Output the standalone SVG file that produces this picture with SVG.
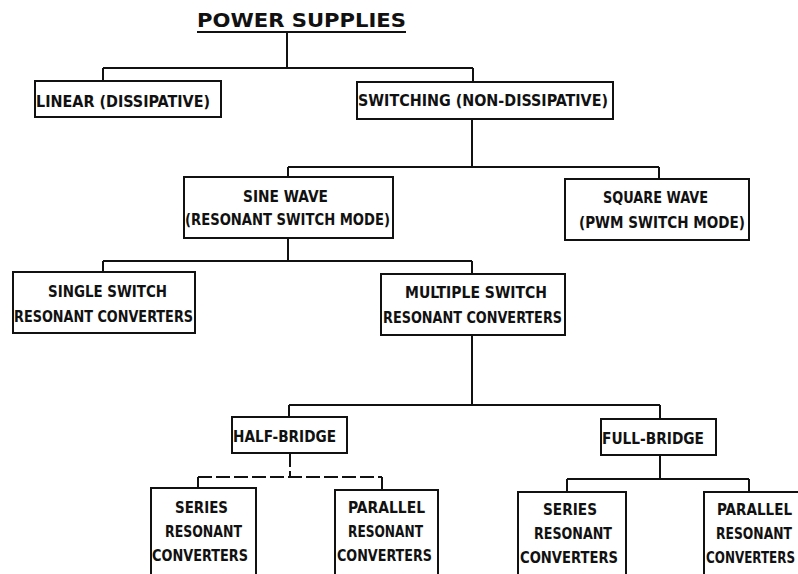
<svg xmlns="http://www.w3.org/2000/svg" width="798" height="574" viewBox="0 0 798 574">
<style>
  .box { fill: #fff; stroke: #111; stroke-width: 2; }
  .t { font-family: "DejaVu Sans Condensed", "DejaVu Sans", "Liberation Sans", sans-serif; font-weight: bold; font-size: 15px; fill: #111; }
  .title { font-family: "DejaVu Sans Condensed", "DejaVu Sans", "Liberation Sans", sans-serif; font-weight: bold; font-size: 19px; fill: #111; }
  .c { fill: none; stroke: #111; stroke-width: 2; }
  .d { fill: none; stroke: #111; stroke-width: 2; stroke-dasharray: 14 4; }
</style>
<rect width="798" height="574" fill="#fff"/>

<g id="connectors">
  <path class="c" d="M287 33 V68 M103 68 H473 M103 68 V81 M473 68 V82"/>
  <path class="c" d="M472 119 V167 M288 167 H659 M288 167 V177 M659 167 V179"/>
  <path class="c" d="M288 238 V261 M103 261 H472 M103 261 V272 M472 261 V274"/>
  <path class="c" d="M472 335 V405 M289 405 H660 M289 405 V417 M660 405 V419"/>
  <path class="d" d="M290 453 V477 M198 477 H382"/>
  <path class="c" d="M198 477 V488 M382 477 V490"/>
  <path class="c" d="M660 455 V479 M567 479 H749 M567 479 V492 M749 479 V492"/>
</g>

<g id="title">
  <text class="title" x="197" y="27" textLength="209" lengthAdjust="spacingAndGlyphs">POWER SUPPLIES</text>
  <line x1="197" y1="32" x2="406" y2="32" stroke="#111" stroke-width="2"/>
</g>

<g id="linear">
  <rect class="box" x="35" y="81" width="186" height="36"/>
  <text class="t" x="36" y="107" textLength="174" lengthAdjust="spacingAndGlyphs">LINEAR (DISSIPATIVE)</text>
</g>

<g id="switching">
  <rect class="box" x="357" y="82" width="256" height="37"/>
  <text class="t" x="358" y="106" textLength="250" lengthAdjust="spacingAndGlyphs">SWITCHING (NON-DISSIPATIVE)</text>
</g>

<g id="sine">
  <rect class="box" x="184" y="177" width="209" height="61"/>
  <text class="t" x="243" y="202" textLength="85" lengthAdjust="spacingAndGlyphs">SINE WAVE</text>
  <text class="t" x="185" y="225" textLength="205" lengthAdjust="spacingAndGlyphs">(RESONANT SWITCH MODE)</text>
</g>

<g id="square">
  <rect class="box" x="565" y="179" width="184" height="61"/>
  <text class="t" x="603" y="203" textLength="105" lengthAdjust="spacingAndGlyphs">SQUARE WAVE</text>
  <text class="t" x="579" y="228" textLength="166" lengthAdjust="spacingAndGlyphs">(PWM SWITCH MODE)</text>
</g>

<g id="single">
  <rect class="box" x="13" y="272" width="182" height="61"/>
  <text class="t" x="48" y="297" textLength="119" lengthAdjust="spacingAndGlyphs">SINGLE SWITCH</text>
  <text class="t" x="14" y="322" textLength="179" lengthAdjust="spacingAndGlyphs">RESONANT CONVERTERS</text>
</g>

<g id="multiple">
  <rect class="box" x="381" y="274" width="184" height="61"/>
  <text class="t" x="405" y="298" textLength="142" lengthAdjust="spacingAndGlyphs">MULTIPLE SWITCH</text>
  <text class="t" x="383" y="323" textLength="179" lengthAdjust="spacingAndGlyphs">RESONANT CONVERTERS</text>
</g>

<g id="half-bridge">
  <rect class="box" x="232" y="417" width="115" height="36"/>
  <text class="t" x="233" y="442" textLength="103" lengthAdjust="spacingAndGlyphs">HALF-BRIDGE</text>
</g>

<g id="full-bridge">
  <rect class="box" x="601" y="419" width="115" height="36"/>
  <text class="t" x="602" y="444" textLength="102" lengthAdjust="spacingAndGlyphs">FULL-BRIDGE</text>
</g>

<g id="hb-series">
  <rect class="box" x="151" y="488" width="105" height="100"/>
  <text class="t" x="175" y="513" textLength="53" lengthAdjust="spacingAndGlyphs">SERIES</text>
  <text class="t" x="165" y="537" textLength="77" lengthAdjust="spacingAndGlyphs">RESONANT</text>
  <text class="t" x="152" y="561" textLength="96" lengthAdjust="spacingAndGlyphs">CONVERTERS</text>
</g>

<g id="hb-parallel">
  <rect class="box" x="335" y="490" width="103" height="100"/>
  <text class="t" x="348" y="513" textLength="77" lengthAdjust="spacingAndGlyphs">PARALLEL</text>
  <text class="t" x="348" y="537" textLength="75" lengthAdjust="spacingAndGlyphs">RESONANT</text>
  <text class="t" x="337" y="561" textLength="95" lengthAdjust="spacingAndGlyphs">CONVERTERS</text>
</g>

<g id="fb-series">
  <rect class="box" x="518" y="492" width="108" height="100"/>
  <text class="t" x="543" y="515" textLength="54" lengthAdjust="spacingAndGlyphs">SERIES</text>
  <text class="t" x="534" y="539" textLength="78" lengthAdjust="spacingAndGlyphs">RESONANT</text>
  <text class="t" x="520" y="563" textLength="98" lengthAdjust="spacingAndGlyphs">CONVERTERS</text>
</g>

<g id="fb-parallel">
  <rect class="box" x="704" y="492" width="110" height="100"/>
  <text class="t" x="717" y="515" textLength="75" lengthAdjust="spacingAndGlyphs">PARALLEL</text>
  <text class="t" x="716" y="539" textLength="76" lengthAdjust="spacingAndGlyphs">RESONANT</text>
  <text class="t" x="706" y="563" textLength="89" lengthAdjust="spacingAndGlyphs">CONVERTERS</text>
</g>
</svg>
